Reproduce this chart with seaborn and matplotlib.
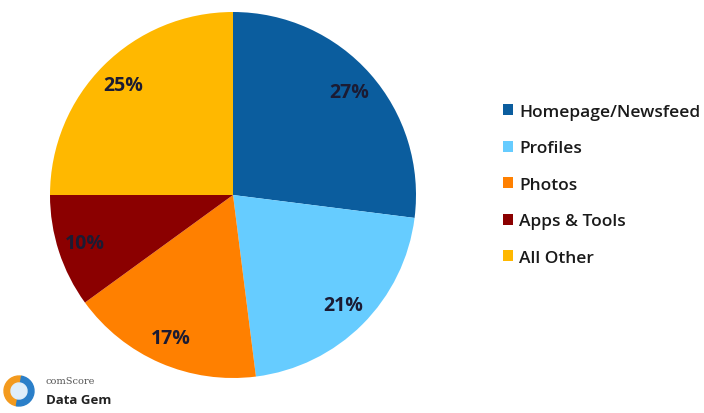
import matplotlib
matplotlib.use("Agg")
import matplotlib.pyplot as plt
from matplotlib.patches import Wedge
import seaborn as sns

# Share of time spent by section
categories = ["Homepage/Newsfeed", "Profiles", "Photos", "Apps & Tools", "All Other"]
shares = [27, 21, 17, 10, 25]
colors = ["#0b5d9e", "#66ccff", "#ff8000", "#8b0000", "#ffb800"]

sns.set_theme(style="white")
plt.rcParams["font.family"] = ["Open Sans", "DejaVu Sans"]

W, H = 704, 414
fig = plt.figure(figsize=(W / 100, H / 100), dpi=100)
fig.patch.set_facecolor("white")

# pie axes: centre (233, 196) px from top-left, radius 183 px
cx, cy, r = 233, 196, 183
ax = fig.add_axes([(cx - r) / W, (H - cy - r) / H, 2 * r / W, 2 * r / H])
wedges, _, autotexts = ax.pie(
    shares,
    colors=sns.color_palette(colors),
    startangle=90,
    counterclock=False,
    autopct=lambda p: f"{p:.0f}%",
    pctdistance=0.85,
    wedgeprops=dict(linewidth=0),
    textprops=dict(fontsize=14, fontweight="bold", color="#1b1b33"),
)
ax.set_xlim(-1, 1)
ax.set_ylim(-1, 1)
ax.set_aspect("equal")
ax.axis("off")

# legend to the right of the pie
leg = fig.legend(
    wedges, categories,
    loc="upper left",
    bbox_to_anchor=(503 / W, (H - 105) / H),
    frameon=False,
    handlelength=0.6,
    handleheight=0.6,
    handletextpad=0.35,
    labelspacing=1.18,
    borderaxespad=0,
    borderpad=0,
    prop=dict(size=12.5, weight="semibold"),
)
for t in leg.get_texts():
    t.set_color("#1a1a1a")

# comScore Data Gem logo, bottom left
lx, ly, lr = 19, 392, 15
logo_ax = fig.add_axes([0, 0, 1, 1], facecolor="none")
logo_ax.set_xlim(0, W)
logo_ax.set_ylim(H, 0)
logo_ax.axis("off")
logo_ax.add_patch(Wedge((lx, ly), lr, 100, 280, width=7, color="#f39a1e"))
logo_ax.add_patch(Wedge((lx, ly), lr, 280, 460, width=7, color="#2a7fc9"))
logo_ax.add_patch(Wedge((lx, ly), lr - 7, 0, 360, color="#dfeefa"))
logo_ax.text(46, 386, "comScore", fontsize=7, color="#555555",
             family=["DejaVu Serif"], va="bottom")
logo_ax.text(46, 401, "Data Gem", fontsize=9.5, fontweight="bold",
             color="#222222", va="center")

fig.savefig("out.png", dpi=100, facecolor="white")
